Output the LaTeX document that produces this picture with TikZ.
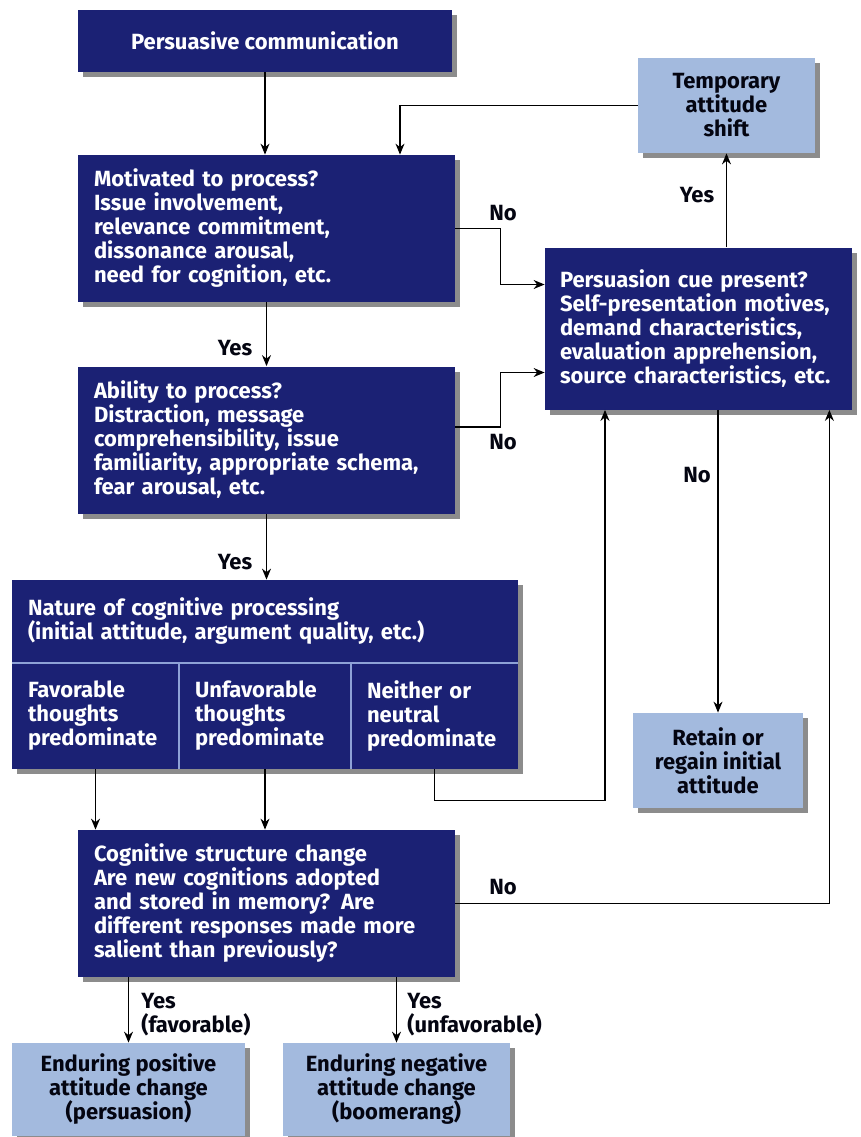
\documentclass[tikz,border=0pt]{standalone}
\usepackage{fontspec}
\setmainfont{Fira Sans}
\usepackage{tikz}
\usetikzlibrary{arrows.meta, shadows, calc}
\definecolor{navy}{RGB}{27,33,116}
\definecolor{paleblue}{RGB}{163,186,222}
\definecolor{rulecol}{RGB}{142,162,214}
\tikzstyle{arrow} = [line width=0.6pt, -{Stealth[length=5.5pt,width=4.5pt]}]
\hyphenpenalty=10000

\begin{document}
\begin{tikzpicture}[
	x=0.5pt, y=-0.5pt,
	font=\bfseries\fontsize{11}{12}\selectfont,
	darkbox/.style={fill=navy, text=white, align=left, inner xsep=8pt, inner ysep=0pt,
		drop shadow={shadow xshift=2.5pt, shadow yshift=-2.5pt, fill=black, opacity=0.45}},
	lightbox/.style={fill=paleblue, text=black!85!navy, align=center, inner sep=0pt,
		drop shadow={shadow xshift=2.5pt, shadow yshift=-2.5pt, fill=black, opacity=0.45}},
	cell/.style={darkbox, minimum height=53pt},
	divider/.style={rulecol, line width=1pt},
	answer/.style={inner sep=0pt, text=black!85!navy}
]
\useasboundingbox (0,0) rectangle (861,1137);

\node[darkbox, align=center, minimum width=187pt, minimum height=31pt] (comm) at (265,41) {Persuasive communication};
\node[lightbox, minimum width=88.5pt, minimum height=47.5pt] (shift) at (726.5,105.5) {Temporary\\attitude\\shift};
\node[darkbox, text width=172.5pt, minimum height=73.5pt] (motiv) at (266.5,228.5) {Motivated to process?\\Issue involvement,\\relevance commitment,\\dissonance arousal,\\need for cognition, etc.};
\node[darkbox, inner xsep=7.5pt, text width=138.5pt, minimum height=81pt] (cue) at (698.5,328.5) {Persuasion cue present?\\Self-presentation motives,\\demand characteristics,\\evaluation apprehension,\\source characteristics, etc.};
\node[darkbox, text width=172.5pt, minimum height=73.5pt] (ability) at (266.5,440) {Ability to process?\\Distraction, message\\comprehensibility, issue\\familiarity, appropriate schema,\\fear arousal, etc.};

% nature of processing, header and three cells
\node[darkbox, text width=237pt, minimum height=41.5pt] (nature) at (265,621.5) {Nature of cognitive processing\\(initial attitude, argument quality, etc.)};
\node[cell, text width=67.5pt] (fav) at (95.5,716) {Favorable\\thoughts\\predominate};
\node[cell, text width=70pt] (unf) at (265,716) {Unfavorable\\thoughts\\predominate};
\node[cell, text width=67.5pt] (nei) at (434.5,716) {Neither or\\neutral\\predominate};
\draw[divider] (nature.south west) -- (nature.south east);
\draw[divider] (fav.north east) -- (fav.south east);
\draw[divider] (unf.north east) -- (unf.south east);

\node[lightbox, minimum width=85pt, minimum height=47.5pt] (retain) at (718,760.5) {Retain or\\regain initial\\attitude};
\node[darkbox, text width=172.5pt, minimum height=73.5pt] (cogchange) at (266.5,903.5) {Cognitive structure change\\Are new cognitions adopted\\and stored in memory? Are\\different responses made more\\salient than previously?};
\node[lightbox, minimum width=116.5pt, minimum height=46.5pt] (positive) at (128.5,1089.5) {Enduring positive\\attitude change\\(persuasion)};
\node[lightbox, minimum width=113.5pt, minimum height=46.5pt] (negative) at (396.5,1089.5) {Enduring negative\\attitude change\\(boomerang)};

% answers
\node[answer] (yesmotiv) at (235,348) {Yes};
\node[answer] (yesability) at (235,562) {Yes};
\node[answer] (nomotiv) at (503,213) {No};
\node[answer] (noability) at (503,442) {No};
\node[answer] (yescue) at (697,195) {Yes};
\node[answer] (nocue) at (697,475) {No};
\node[answer] (nocog) at (503,887) {No};
\node[answer, align=left, anchor=west] (yesfav) at (141,1015) {Yes\\(favorable)};
\node[answer, align=left, anchor=west] (yesunfav) at (407,1015) {Yes\\(unfavorable)};

\draw[arrow] (comm.south) -- (comm.south |- motiv.north);
\draw[arrow] (shift.west) -| ([xshift=66.75pt]motiv.north);
\draw[arrow] (motiv.east) -- ++(22.5pt,0) |- ([yshift=22pt]cue.west);
\draw[arrow] ([yshift=6.5pt]ability.east) -- ++(22.5pt,0) |- ([yshift=-22pt]cue.west);
\draw[arrow] (motiv.south) -- (ability.north);
\draw[arrow] (ability.south) -- (ability.south |- nature.north);
\draw[arrow] (fav.south) -- (fav.south |- cogchange.north);
\draw[arrow] (unf.south) -- (unf.south |- cogchange.north);
\draw[arrow] (nei.south) -- ++(0,-15.5pt) -| ([xshift=-46.75pt]cue.south);
\draw[arrow] (retain.north |- cue.south) -- (retain.north);
\draw[arrow] (shift.south |- cue.north) -- (shift.south);
\draw[arrow] (cogchange.east) -| ([xshift=-11.5pt]cue.south east);
\draw[arrow] (positive.north |- cogchange.south) -- (positive.north);
\draw[arrow] (negative.north |- cogchange.south) -- (negative.north);

\end{tikzpicture}
\end{document}
